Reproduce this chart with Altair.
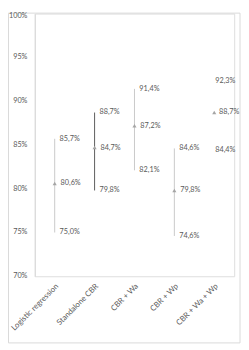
import altair as alt
import pandas as pd

categories = ["Logistic regression", "Standalone CBR", "CBR + Wa", "CBR + Wp", "CBR + Wa + Wp"]
high_vals = [85.7, 88.7, 91.4, 84.6, 92.3]
mid_vals = [80.6, 84.7, 87.2, 79.8, 88.7]
low_vals = [75.0, 79.8, 82.1, 74.6, 84.4]
y_ticks = [70, 75, 80, 85, 90, 95, 100]

line_colors = ["#c8c8c8", "#595959", "#c8c8c8", "#c8c8c8", "#ffffff"]

FONT = "Lato"
TXT = "#595959"
FS = 7.5

df = pd.DataFrame({"cat": categories, "high": high_vals, "mid": mid_vals, "low": low_vals})
tick_df = pd.DataFrame({"t": y_ticks})

W, H = 205, 270

xenc = alt.X(
    "cat:N",
    sort=categories,
    scale=alt.Scale(domain=categories, paddingInner=0, paddingOuter=0),
    axis=alt.Axis(
        title=None, labelAngle=-45, ticks=False, tickSize=0, domain=False,
        labelPadding=6, labelFont=FONT, labelFontSize=8, labelColor=TXT, labelLimit=0,
    ),
)
yscale = alt.Scale(domain=[70, 100], nice=False, zero=False)

base = alt.Chart(df)

rules = base.mark_rule(strokeWidth=1).encode(
    x=xenc,
    y=alt.Y("low:Q", scale=yscale, axis=alt.Axis(
        title=None, labels=False, ticks=False, grid=False,
        domainColor="#d9d9d9", values=y_ticks)),
    y2="high:Q",
    color=alt.Color("cat:N", scale=alt.Scale(domain=categories, range=line_colors), legend=None),
)

points = base.mark_point(shape="triangle-up", filled=True, size=18, color="#a5a5a5", opacity=1).encode(
    x=xenc, y=alt.Y("mid:Q", scale=yscale)
)

long = base.transform_fold(["high", "mid", "low"], as_=["kind", "v"]).transform_calculate(
    label="replace(format(datum.v, '.1f'), '.', ',') + '%'"
)

def txt(filter_expr, dx):
    return long.transform_filter(filter_expr).mark_text(
        align="left", baseline="middle", dx=dx, font=FONT, fontSize=FS, color=TXT
    ).encode(x=xenc, y=alt.Y("v:Q", scale=yscale), text="label:N")

last = categories[-1]
t1 = txt(f"datum.cat != '{last}' && datum.kind != 'mid'", 5)
t2 = txt(f"datum.cat != '{last}' && datum.kind == 'mid'", 6)
t3 = txt(f"datum.cat == '{last}' && datum.kind != 'mid'", 1)
t4 = txt(f"datum.cat == '{last}' && datum.kind == 'mid'", 5)

ytxt = alt.Chart(tick_df).transform_calculate(label="datum.t + '%'")
ylab1 = ytxt.transform_filter("datum.t < 100").mark_text(
    align="right", baseline="middle", font=FONT, fontSize=FS, color=TXT
).encode(x=alt.value(-7.5), y=alt.Y("t:Q", scale=yscale), text="label:N")
ylab2 = ytxt.transform_filter("datum.t == 100").mark_text(
    align="right", baseline="middle", dy=3, font=FONT, fontSize=FS, color=TXT
).encode(x=alt.value(-7.5), y=alt.Y("t:Q", scale=yscale), text="label:N")

border = alt.Chart(pd.DataFrame({"a": [0]})).mark_rect(
    fillOpacity=0, stroke="#d9d9d9", strokeWidth=1
).encode(x=alt.value(-27), x2=alt.value(211), y=alt.value(-0.5), y2=alt.value(338.5))

chart = alt.layer(border, rules, points, t1, t2, t3, t4, ylab1, ylab2).properties(
    width=W, height=H,
    autosize=alt.AutoSizeParams(type="none"),
    padding={"left": 27.5, "top": 1, "right": 7, "bottom": 70},
).configure_view(stroke=None).configure(background="#ffffff")

chart.save("out.html", embed_options={"renderer": "svg", "actions": False})
